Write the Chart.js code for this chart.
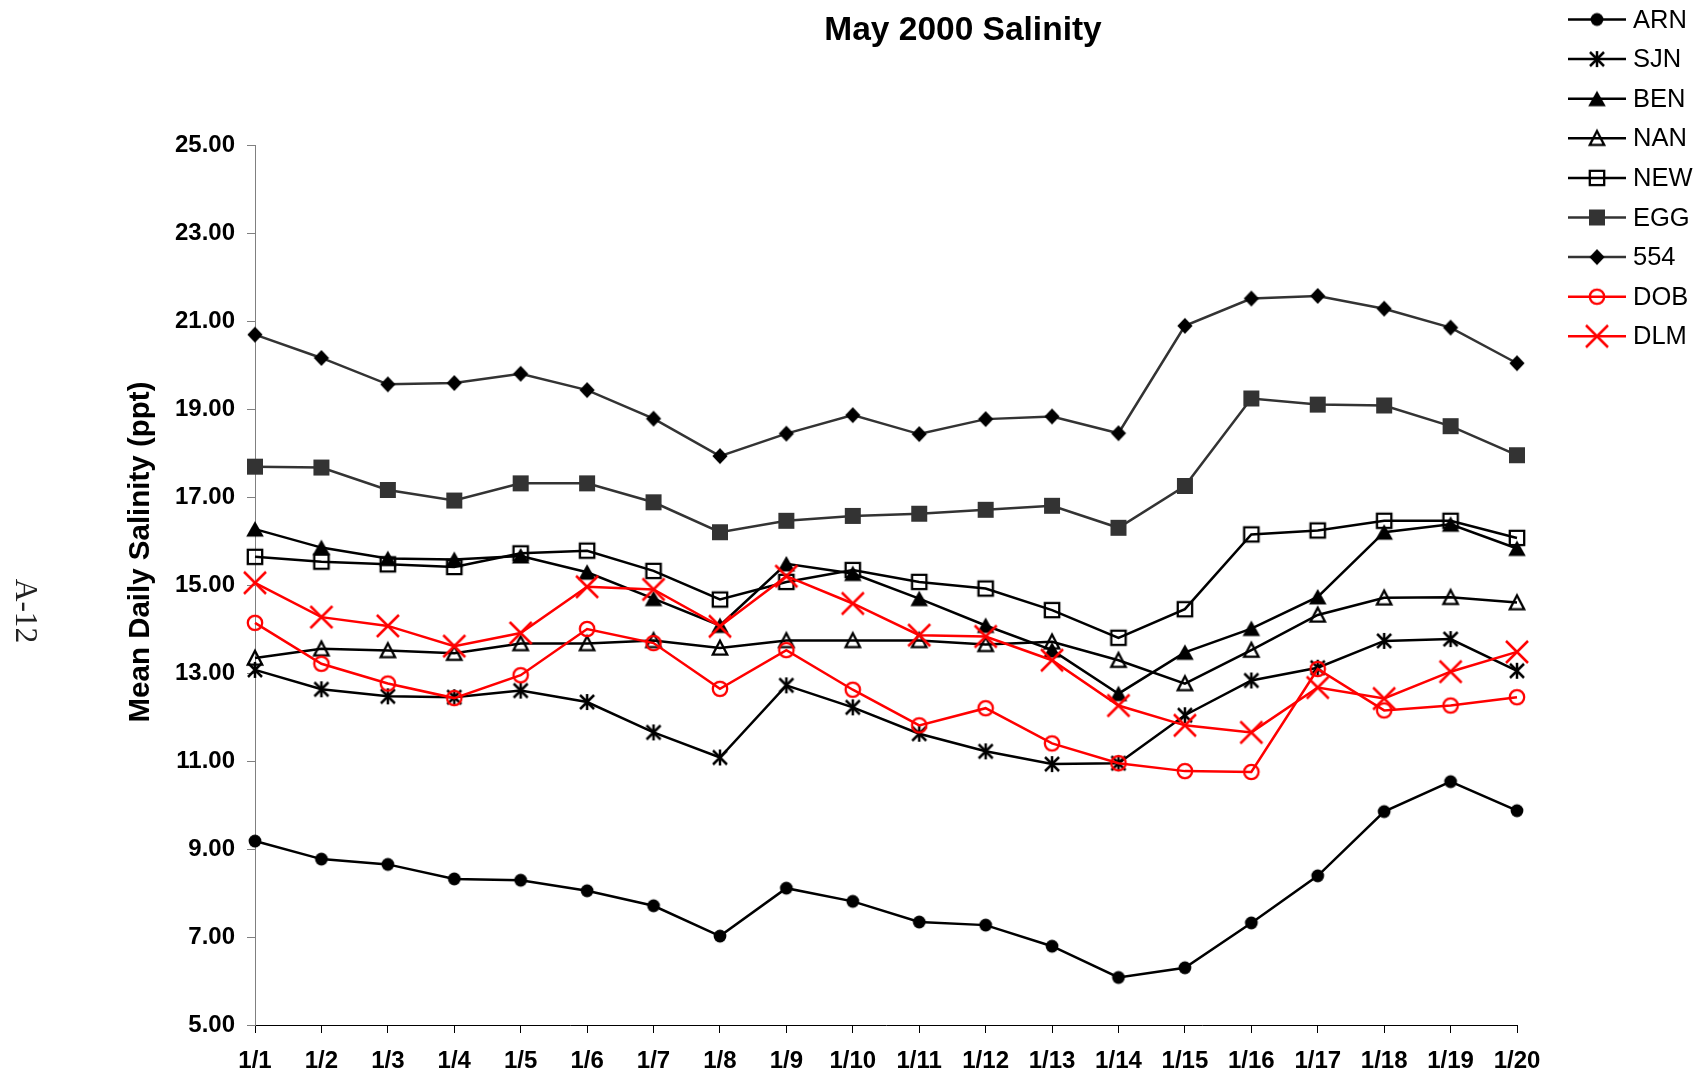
<!DOCTYPE html>
<html><head><meta charset="utf-8">
<script src="https://cdn.jsdelivr.net/npm/chart.js@4.4.0/dist/chart.umd.min.js"></script>
<style>html,body{margin:0;padding:0;background:#fff;overflow:hidden}#wrap{width:1697px;height:1076px;position:relative}canvas{display:block}</style>
</head><body><div id="wrap"><canvas id="c" width="1697" height="1076"></canvas></div>
<script>
const categories = ['1/1','1/2','1/3','1/4','1/5','1/6','1/7','1/8','1/9','1/10','1/11','1/12','1/13','1/14','1/15','1/16','1/17','1/18','1/19','1/20'];
const yTicks = [5, 7, 9, 11, 13, 15, 17, 19, 21, 23, 25];
const seriesNames = ['ARN','SJN','BEN','NAN','NEW','EGG','554','DOB','DLM'];
const ARN = [9.18, 8.77, 8.65, 8.32, 8.29, 8.05, 7.71, 7.02, 8.11, 7.81, 7.34, 7.27, 6.79, 6.08, 6.30, 7.32, 8.39, 9.85, 10.53, 9.87];
const SJN = [13.07, 12.63, 12.47, 12.45, 12.60, 12.34, 11.65, 11.08, 12.72, 12.22, 11.62, 11.22, 10.93, 10.95, 12.04, 12.83, 13.12, 13.73, 13.77, 13.05];
const BEN = [16.27, 15.85, 15.60, 15.58, 15.66, 15.29, 14.69, 14.08, 15.48, 15.26, 14.69, 14.08, 13.52, 12.53, 13.47, 14.01, 14.73, 16.20, 16.38, 15.83];
const NAN = [13.34, 13.55, 13.51, 13.45, 13.67, 13.67, 13.74, 13.57, 13.74, 13.74, 13.74, 13.65, 13.71, 13.29, 12.76, 13.52, 14.32, 14.71, 14.72, 14.60];
const NEW = [15.64, 15.53, 15.47, 15.41, 15.72, 15.78, 15.32, 14.67, 15.07, 15.34, 15.07, 14.92, 14.43, 13.80, 14.45, 16.15, 16.24, 16.46, 16.46, 16.07];
const EGG = [17.69, 17.67, 17.16, 16.92, 17.31, 17.31, 16.88, 16.20, 16.46, 16.57, 16.62, 16.71, 16.80, 16.30, 17.25, 19.24, 19.10, 19.08, 18.61, 17.95];
const S554 = [20.69, 20.16, 19.56, 19.59, 19.80, 19.43, 18.78, 17.93, 18.44, 18.86, 18.43, 18.77, 18.83, 18.45, 20.89, 21.51, 21.57, 21.28, 20.85, 20.04];
const DOB = [14.14, 13.21, 12.76, 12.43, 12.95, 14.00, 13.68, 12.64, 13.52, 12.62, 11.81, 12.20, 11.40, 10.95, 10.77, 10.75, 13.09, 12.15, 12.26, 12.45];
const DLM = [15.05, 14.27, 14.07, 13.61, 13.91, 14.96, 14.90, 14.06, 15.20, 14.58, 13.86, 13.83, 13.29, 12.26, 11.81, 11.65, 12.67, 12.42, 13.03, 13.48];

const SANS = "'Liberation Sans', Arial, Helvetica, sans-serif";
const SERIF = "'Liberation Serif', 'Times New Roman', serif";

function marker(kind, color) {
  const c = document.createElement('canvas');
  c.width = 34; c.height = 34;
  const g = c.getContext('2d');
  g.translate(17, 17);
  g.strokeStyle = color; g.fillStyle = color; g.lineWidth = 2.3;
  g.beginPath();
  switch (kind) {
    case 'dot': g.arc(0, 0, 6.4, 0, Math.PI * 2); g.fill(); break;
    case 'aster':
      g.lineWidth = 2.5;
      g.moveTo(-7, -7); g.lineTo(7, 7);
      g.moveTo(7, -7); g.lineTo(-7, 7);
      g.moveTo(0, -8); g.lineTo(0, 8); g.stroke(); break;
    case 'triFill':
      g.moveTo(0, -8); g.lineTo(8.8, 7.5); g.lineTo(-8.8, 7.5); g.closePath(); g.fill(); break;
    case 'triOpen':
      g.moveTo(0, -7.2); g.lineTo(7.2, 6.6); g.lineTo(-7.2, 6.6); g.closePath(); g.stroke(); break;
    case 'sqOpen': g.rect(-7.2, -7.2, 14.4, 14.4); g.stroke(); break;
    case 'sqFill': g.rect(-8, -8, 16, 16); g.fill(); break;
    case 'diamond':
      g.moveTo(0, -8); g.lineTo(7.6, 0); g.lineTo(0, 8); g.lineTo(-7.6, 0); g.closePath(); g.fill(); break;
    case 'circle': g.arc(0, 0, 7.2, 0, Math.PI * 2); g.stroke(); break;
    case 'x':
      g.lineWidth = 2.5;
      g.moveTo(-11, -11); g.lineTo(11, 11);
      g.moveTo(11, -11); g.lineTo(-11, 11); g.stroke(); break;
  }
  return c;
}

const seriesData = [ARN, SJN, BEN, NAN, NEW, EGG, S554, DOB, DLM];
const seriesColors = ['#000000','#000000','#000000','#000000','#000000','#333333','#333333','#ff0000','#ff0000'];
const markerColors = ['#000000','#000000','#000000','#000000','#000000','#333333','#000000','#ff0000','#ff0000'];
const markerKinds = ['dot','aster','triFill','triOpen','sqOpen','sqFill','diamond','circle','x'];
const markers = markerKinds.map((k, i) => marker(k, markerColors[i]));

const datasets = seriesNames.map((name, i) => ({
  label: name,
  data: seriesData[i],
  borderColor: seriesColors[i],
  backgroundColor: seriesColors[i],
  borderWidth: 2.5,
  tension: 0,
  fill: false,
  pointStyle: markers[i],
  pointRadius: 6,
  pointHoverRadius: 6,
  clip: false,
  order: seriesNames.length - i
}));

const decor = {
  id: 'decor',
  afterDraw(chart) {
    const ctx = chart.ctx;
    ctx.save();
    ctx.fillStyle = '#000';
    ctx.font = 'bold 33.5px ' + SANS;
    ctx.textAlign = 'center';
    ctx.textBaseline = 'alphabetic';
    ctx.fillText('May 2000 Salinity', 963, 40);
    ctx.save();
    ctx.translate(141, 552);
    ctx.rotate(-Math.PI / 2);
    ctx.font = 'bold 29.5px ' + SANS;
    ctx.textBaseline = 'middle';
    ctx.fillText('Mean Daily Salinity (ppt)', 0, 0);
    ctx.restore();
    ctx.save();
    ctx.translate(24, 611);
    ctx.rotate(Math.PI / 2);
    ctx.font = '31.5px ' + SERIF;
    ctx.fillStyle = '#222';
    ctx.textAlign = 'center';
    ctx.textBaseline = 'middle';
    ctx.fillText('A-12', 0, 0);
    ctx.restore();
    ctx.font = '25.5px ' + SANS;
    ctx.textAlign = 'left';
    ctx.textBaseline = 'middle';
    seriesNames.forEach((name, i) => {
      const y = 19.5 + i * 39.6;
      ctx.strokeStyle = seriesColors[i];
      ctx.lineWidth = 2.5;
      ctx.beginPath();
      ctx.moveTo(1568, y); ctx.lineTo(1626, y);
      ctx.stroke();
      const m = markers[i];
      ctx.drawImage(m, 1597 - m.width / 2, y - m.height / 2);
      ctx.fillStyle = '#000';
      ctx.fillText(name, 1633, y + 1);
    });
    ctx.restore();
  }
};

new Chart(document.getElementById('c'), {
  type: 'line',
  data: { labels: categories, datasets },
  options: {
    responsive: false,
    animation: false,
    events: [],
    layout: { padding: { top: 145, right: 180, left: 0, bottom: 0 } },
    plugins: { legend: { display: false }, title: { display: false }, tooltip: { enabled: false } },
    scales: {
      x: {
        type: 'category',
        offset: false,
        afterFit(s) { s.height = 51; },
        grid: { drawOnChartArea: false, drawTicks: true, tickLength: 8, color: '#000', lineWidth: 1 },
        border: { display: true, color: '#000', width: 1 },
        ticks: { autoSkip: false, maxRotation: 0, minRotation: 0, padding: 14, color: '#000', font: { family: SANS, size: 24, weight: 'bold' } }
      },
      y: {
        min: 5, max: 25,
        afterFit(s) { s.width = 255; },
        afterBuildTicks(s) { s.ticks = yTicks.map(v => ({ value: v })); },
        grid: { drawOnChartArea: false, drawTicks: true, tickLength: 8, color: '#808080', lineWidth: 1 },
        border: { display: true, color: '#808080', width: 1 },
        ticks: { padding: 12, color: '#000', font: { family: SANS, size: 24, weight: 'bold' }, callback: v => Number(v).toFixed(2) }
      }
    }
  },
  plugins: [decor]
});
</script>
</body></html>
